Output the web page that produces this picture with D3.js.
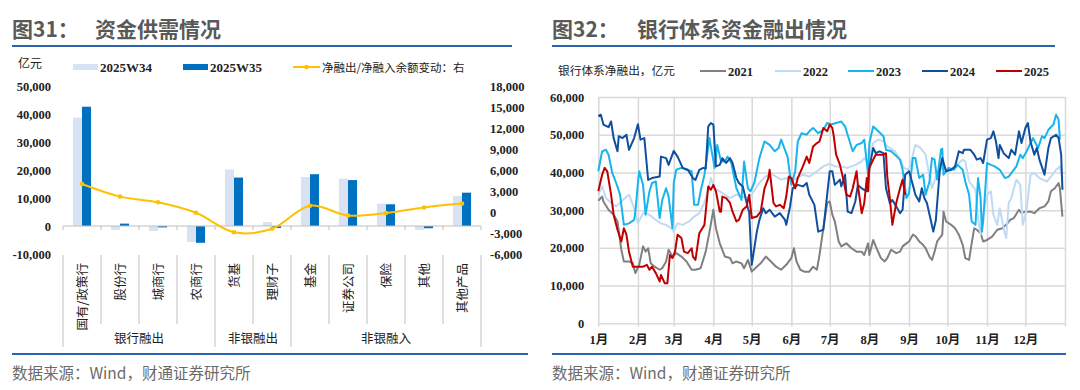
<!DOCTYPE html>
<html>
<head>
<meta charset="utf-8">
<script src="https://cdn.jsdelivr.net/npm/d3@7"></script>
<style>
body{margin:0;background:#fff}
svg{display:block}
</style>
</head>
<body>
<svg id="chart" width="1080" height="390"></svg>
<script>
// ---- 图31 数据 ----
var categories = ["国有/政策行","股份行","城商行","农商行","货基","理财子","基金","证券公司","保险","其他","其他产品"];
var groups = [["银行融出",4],["非银融出",2],["非银融入",5]];
var w34 = [38700,-1400,-1800,-5700,20200,1400,17500,16900,8000,-1400,10700];
var w35 = [42600,850,-500,-6000,17300,-700,18500,16400,7750,-800,11900];
var netChange = [4000,2200,1400,-100,-2900,-2400,900,-500,-150,650,1200];
var leftTicks = [-10000,0,10000,20000,30000,40000,50000];
var rightTicks = [-6000,-3000,0,3000,6000,9000,12000,15000,18000];

// ---- 图32 数据 (日序, 亿元) ----
var yearNames = ["2021","2022","2023","2024","2025"];
var s2021 = [[0,32500],[3,33600],[4,32300],[8,30100],[12,28800],[15,27000],[18,19500],[20,16400],[24,16400],[27,15900],[29,13300],[32,15500],[35,20400],[37,19000],[39,19900],[41,15900],[44,15000],[48,14200],[50,14600],[53,16400],[55,19500],[58,17700],[61,18600],[65,17700],[69,16400],[73,14200],[76,14200],[80,14600],[84,19000],[87,24300],[90,30100],[92,25200],[95,21200],[99,17700],[103,17300],[105,15900],[108,16400],[112,15900],[114,14600],[117,16800],[120,13700],[124,15000],[127,15900],[131,17700],[135,16400],[139,15000],[143,14200],[147,15500],[151,17300],[153,19900],[155,16400],[158,14200],[161,13700],[165,13700],[168,15000],[171,14200],[173,18100],[176,25200],[179,31900],[181,32300],[183,28800],[185,27000],[188,21700],[190,20400],[194,21200],[198,19900],[202,19000],[206,19000],[208,18100],[211,21200],[212,18100],[215,22100],[217,20400],[221,17300],[224,16400],[226,17300],[229,19500],[233,18600],[236,19000],[238,20400],[241,21200],[243,21700],[246,23500],[248,23100],[251,21700],[254,20800],[256,19900],[259,17700],[261,16800],[263,19000],[265,21700],[269,23500],[270,29600],[272,27000],[276,26100],[279,25200],[282,23500],[285,20800],[287,17300],[290,16800],[292,21200],[294,25200],[296,24800],[299,23900],[301,21700],[304,22100],[308,23000],[312,24800],[316,25200],[320,26500],[322,27400],[325,27900],[329,30100],[331,29200],[334,29600],[338,29600],[341,29200],[345,30500],[349,31000],[352,32300],[354,35000],[357,35800],[360,37200],[361,35800],[363,28300]];
var s2022 = [[0,34100],[3,36300],[6,33200],[10,31900],[14,31000],[18,32300],[21,33200],[24,34100],[28,30500],[31,26500],[35,29200],[40,28800],[45,27400],[49,26500],[53,26100],[57,25200],[59,24300],[62,26500],[66,26100],[71,27000],[75,28300],[79,29200],[83,31900],[87,36700],[88,38500],[91,35800],[95,35000],[99,34100],[103,33200],[108,34100],[112,33600],[116,33200],[120,34100],[124,36300],[127,37600],[131,38900],[135,39800],[139,38900],[143,38100],[147,38500],[151,37600],[155,38500],[160,39400],[165,38900],[171,40300],[176,41600],[181,42300],[185,41600],[190,41600],[195,41200],[201,42000],[206,42900],[208,43800],[211,42500],[215,47800],[219,48700],[223,48200],[226,46900],[232,45600],[236,43400],[239,41200],[243,40700],[246,44700],[248,47300],[252,46500],[256,44700],[259,38900],[261,35800],[265,39800],[269,41200],[272,40700],[276,40700],[279,41600],[282,42500],[285,43400],[287,42900],[290,37600],[292,36700],[295,35400],[297,27900],[299,23500],[301,28800],[304,34100],[307,35000],[309,28800],[312,26100],[314,30500],[317,25200],[319,22600],[321,31900],[323,33200],[327,38100],[330,36700],[332,26100],[335,30100],[338,39400],[341,39800],[345,38500],[351,37600],[354,38900],[358,40700],[361,41600],[363,38500]];
var s2023 = [[0,40300],[3,45600],[6,46000],[8,44700],[11,39800],[14,37200],[17,34100],[20,26100],[24,26500],[28,27400],[29,29600],[31,37200],[32,40300],[35,36700],[37,28800],[40,35000],[42,37200],[45,37600],[48,27900],[50,32700],[53,35800],[55,33600],[58,25200],[59,37200],[61,40700],[65,41200],[69,40700],[73,40300],[75,31400],[78,31400],[80,35000],[83,39400],[87,49100],[88,46900],[91,41200],[93,47300],[96,42900],[99,42900],[101,44200],[104,42500],[108,35800],[112,32700],[114,42900],[117,35800],[119,35000],[122,37200],[126,43800],[130,48200],[134,47300],[138,45600],[141,46500],[143,48700],[146,46000],[148,44200],[151,36700],[154,40300],[156,48200],[159,50400],[163,50000],[165,50900],[168,51800],[172,50400],[176,51300],[179,53100],[182,52700],[186,53100],[190,53500],[193,52200],[195,50000],[199,45600],[202,47300],[206,47800],[208,48700],[211,39400],[212,47800],[215,52200],[219,50900],[223,49600],[225,46000],[229,45600],[232,44700],[236,43400],[238,40700],[241,33200],[243,34500],[246,43800],[248,43800],[251,38500],[254,39400],[256,34100],[259,37600],[261,43800],[263,43400],[265,38100],[268,46000],[269,46300],[270,39400],[274,41200],[278,40700],[281,42000],[285,40700],[287,37600],[290,34100],[292,27000],[295,26100],[297,38500],[299,33200],[300,24300],[301,27000],[304,42500],[307,42000],[310,41600],[314,40700],[318,38500],[321,38900],[323,39800],[327,41600],[330,44700],[332,43800],[335,45600],[338,47800],[340,49100],[344,46500],[347,49600],[349,49100],[352,51300],[356,52700],[358,55300],[360,54000],[361,48700]];
var s2024 = [[0,54900],[2,55300],[4,52700],[8,52000],[10,53500],[12,49100],[15,45600],[16,49600],[19,49100],[22,50000],[24,46000],[28,49100],[31,52800],[33,48700],[36,49100],[39,38000],[42,38500],[48,38900],[49,44200],[53,43800],[55,42000],[59,45700],[62,44200],[66,41200],[70,40700],[74,38500],[76,38000],[79,40700],[82,41200],[84,41000],[86,52200],[88,53100],[90,52700],[92,41600],[95,42000],[97,43800],[100,42500],[103,43800],[105,42500],[108,38500],[110,37200],[113,36300],[117,30500],[118,29600],[120,15500],[124,24300],[126,27400],[129,30500],[131,29200],[134,30100],[138,28300],[142,29200],[146,27400],[147,26100],[150,31000],[152,35800],[156,36700],[160,36300],[163,37200],[165,34100],[169,31400],[172,24300],[176,24800],[179,34100],[181,40300],[183,40300],[185,36700],[189,38100],[190,36300],[193,39400],[195,29600],[198,29200],[201,32300],[203,36700],[206,35800],[210,35000],[212,41200],[215,46500],[217,45100],[220,45600],[223,45100],[225,35800],[228,31900],[230,32700],[233,31000],[236,29200],[238,30100],[240,39400],[243,40300],[246,36700],[248,34100],[251,32300],[253,35800],[255,33200],[257,31900],[260,27400],[262,24300],[264,27400],[267,40300],[269,43800],[272,40300],[276,40700],[279,41600],[282,45600],[285,45100],[286,46000],[291,46000],[294,44700],[296,43400],[299,43800],[301,42500],[304,48700],[307,49100],[309,50900],[311,48200],[313,43800],[314,47300],[317,45100],[321,43800],[323,46000],[326,44700],[329,50900],[331,47800],[334,51800],[336,53100],[338,48200],[341,44700],[343,46500],[345,43400],[349,39400],[352,46500],[354,49100],[358,50000],[360,49100],[362,44700],[363,35400]];
var s2025 = [[0,35000],[3,39400],[5,41200],[7,40300],[10,34100],[12,28800],[14,26100],[15,24800],[18,21700],[20,25200],[22,23500],[24,19000],[27,15000],[31,15000],[35,15000],[38,15500],[40,14200],[42,15000],[45,13300],[48,11100],[49,12800],[52,10600],[54,10600],[56,18100],[58,17300],[60,19000],[62,23500],[65,22600],[67,19000],[70,18600],[73,19900],[74,17700],[76,16800],[79,23900],[83,26100],[86,36300],[88,35400],[90,36700],[92,35000],[95,29600],[96,29600],[97,33600],[100,33200],[103,31900],[105,29600],[108,27000],[110,27400],[113,30100],[116,31000],[118,34100],[120,27900],[124,28300],[127,29600],[130,35800],[133,38500],[134,40700],[137,31900],[139,31000],[142,31400],[145,30500],[147,33600],[149,38900],[151,38500],[154,35800],[156,38500],[160,41600],[163,44200],[165,42500],[168,46900],[171,47800],[173,48200],[176,51800],[179,50900],[181,52700],[183,51800],[184,50000],[186,44700],[189,42000],[192,37600],[194,34100],[197,33600],[199,35800],[202,40300],[203,36700],[206,29200],[208,31900],[210,38500],[211,35000],[212,41200],[215,43400],[217,44700],[220,44700],[223,44700],[225,45100],[226,38900],[228,33200],[230,26100],[233,31900],[236,35800],[238,38100],[240,34100]];
var rightYTicks = [0,10000,20000,30000,40000,50000,60000];

var NUMF = "'Liberation Serif','Times New Roman','Noto Sans CJK SC',serif";
var CJKF = "'Noto Sans CJK SC','Noto Sans',sans-serif";
var fmt = d3.formatLocale({decimal:".",thousands:",",grouping:[3],currency:["",""],minus:"-"}).format(",");

var svg = d3.select("#chart");

// 标题 + 页脚
function frame(x0, x1, lineEnd, fig, title, titleX) {
  svg.append("text").attr("x",x0).attr("y",37).text(fig)
    .style("font-family",CJKF).style("font-weight","bold").style("font-size","21px").attr("fill","#595959");
  svg.append("text").attr("x",titleX).attr("y",37).text(title)
    .style("font-family",CJKF).style("font-weight","bold").style("font-size","21px").attr("fill","#595959");
  svg.append("line").attr("x1",x0).attr("x2",x1).attr("y1",46).attr("y2",46)
    .attr("stroke","#2a62ad").attr("stroke-width",2);
  svg.append("line").attr("x1",x0).attr("x2",lineEnd).attr("y1",354).attr("y2",354)
    .attr("stroke","#2a62ad").attr("stroke-width",2);
  svg.append("text").attr("x",x0).attr("y",379).text("数据来源：Wind，财通证券研究所")
    .style("font-family",CJKF).style("font-size","15.5px").attr("fill","#6b6b6b");
}
frame(12, 512, 528, "图31：", "资金供需情况", 95);
frame(552, 1055, 1066, "图32：", "银行体系资金融出情况", 637);

// ================= 图31 =================
var xL = d3.scaleBand().domain(categories).range([63,481]);
var xSub = d3.scaleBand().domain(["W34","W35"]).range([0,xL.bandwidth()]).paddingOuter(1.1);
var yL = d3.scaleLinear().domain([-10000,50000]).range([254,86]);
var yR = d3.scaleLinear().domain([-6000,18000]).range([254,86]);

var barSeries = [{key:"W34",vals:w34,color:"#d9e2f3"},{key:"W35",vals:w35,color:"#0070c0"}];
barSeries.forEach(function(s){
  svg.append("g").selectAll("rect").data(categories).join("rect")
    .attr("x",function(c){return xL(c)+xSub(s.key);})
    .attr("width",xSub.bandwidth())
    .attr("y",function(c,i){return yL(Math.max(0,s.vals[i]));})
    .attr("height",function(c,i){return Math.abs(yL(s.vals[i])-yL(0));})
    .attr("fill",s.color);
});

// 0 轴
var baseY = yL(0);
svg.append("line").attr("x1",63).attr("x2",481).attr("y1",baseY).attr("y2",baseY).attr("stroke","#bfbfbf");
var bounds = categories.map(function(c){return xL(c);}).concat([xL.range()[1]]);
svg.append("g").selectAll("line").data(bounds).join("line")
  .attr("x1",function(d){return d;}).attr("x2",function(d){return d;})
  .attr("y1",baseY).attr("y2",baseY+4).attr("stroke","#bfbfbf");

// 分类分隔线
var groupIdx = [0]; groups.forEach(function(g){groupIdx.push(groupIdx[groupIdx.length-1]+g[1]);});
svg.append("g").selectAll("line").data(bounds).join("line")
  .attr("x1",function(d){return d;}).attr("x2",function(d){return d;})
  .attr("y1",255).attr("y2",function(d,i){return groupIdx.indexOf(i)>=0?347:324;})
  .attr("stroke","#bfbfbf");

svg.append("g").selectAll("text").data(categories).join("text")
  .attr("transform",function(c){return "translate("+(xL(c)+xL.bandwidth()/2)+",263) rotate(-90)";})
  .attr("text-anchor","end").attr("dy","0.36em").text(function(c){return c;})
  .style("font-family",CJKF).style("font-size","12.5px").attr("fill","#222");

svg.append("g").selectAll("text").data(groups).join("text")
  .attr("x",function(g,i){return (bounds[groupIdx[i]]+bounds[groupIdx[i+1]])/2;})
  .attr("y",343).attr("text-anchor","middle").text(function(g){return g[0];})
  .style("font-family",CJKF).style("font-size","12.5px").attr("fill","#222");

// 左右轴
var axL = svg.append("g").attr("transform","translate(52,0)")
  .call(d3.axisLeft(yL).tickValues(leftTicks).tickFormat(fmt).tickSize(0).tickPadding(1));
var axR = svg.append("g").attr("transform","translate(488,0)")
  .call(d3.axisRight(yR).tickValues(rightTicks).tickFormat(fmt).tickSize(0).tickPadding(2));
[axL,axR].forEach(function(a){
  a.select(".domain").remove();
  a.selectAll("text").style("font-family",NUMF).style("font-weight","bold").style("font-size","12.5px").attr("fill","#222");
});

// 折线
var netPts = categories.map(function(c,i){return [xL(c)+xL.bandwidth()/2, yR(netChange[i])];});
svg.append("path").attr("d",d3.line().curve(d3.curveCatmullRom.alpha(0.5))(netPts))
  .attr("fill","none").attr("stroke","#ffc000").attr("stroke-width",2);
svg.append("g").selectAll("circle").data(netPts).join("circle")
  .attr("cx",function(d){return d[0];}).attr("cy",function(d){return d[1];}).attr("r",2.3).attr("fill","#ffc000");

// 图例
svg.append("text").attr("x",18).attr("y",68).text("亿元")
  .style("font-family",CJKF).style("font-size","12px").attr("fill","#222");
var leg1 = [{x:73,label:"2025W34",color:"#d9e2f3"},{x:183,label:"2025W35",color:"#0070c0"}];
leg1.forEach(function(l){
  svg.append("rect").attr("x",l.x).attr("y",64).attr("width",25).attr("height",6).attr("fill",l.color);
  svg.append("text").attr("x",l.x+27).attr("y",71.5).text(l.label)
    .style("font-family",NUMF).style("font-weight","bold").style("font-size","13px").attr("fill","#222");
});
svg.append("line").attr("x1",293).attr("x2",320).attr("y1",67).attr("y2",67).attr("stroke","#ffc000").attr("stroke-width",2);
svg.append("circle").attr("cx",306.5).attr("cy",67).attr("r",2.3).attr("fill","#ffc000");
svg.append("text").attr("x",322).attr("y",71.5).text("净融出/净融入余额变动：右")
  .style("font-family",CJKF).style("font-size","11.5px").attr("fill","#222");

// ================= 图32 =================
var t0 = new Date(2021,0,1), t1 = new Date(2022,0,1);
var xT = d3.scaleTime().domain([t0,t1]).range([598.3,1065]);
var yT = d3.scaleLinear().domain([0,60000]).range([323.3,97]);

var gy = svg.append("g").attr("transform","translate(598.3,0)")
  .call(d3.axisLeft(yT).tickValues(rightYTicks).tickFormat(fmt).tickSize(-(1065-598.3)).tickPadding(14));
gy.select(".domain").remove();
gy.selectAll("line").attr("stroke","#d9d9d9").attr("stroke-width",1.5);

var monthTicks = d3.timeMonth.range(t0, d3.timeDay.offset(t1,1));
var gx = svg.append("g").attr("transform","translate(0,326.5)")
  .call(d3.axisBottom(xT).tickValues(monthTicks).tickSize(-(326.5-97))
    .tickFormat(function(d){return d.getFullYear()===2021?(d.getMonth()+1)+"月":"";}).tickPadding(9));
gx.select(".domain").remove();
gx.selectAll("line").attr("stroke","#d9d9d9").attr("stroke-width",1.5);

[gx,gy].forEach(function(a){
  a.selectAll("text").style("font-family",NUMF).style("font-weight","bold").style("font-size","12.5px").attr("fill","#222");
});

var seriesList = [
  {name:"2021",data:s2021,color:"#808080"},
  {name:"2022",data:s2022,color:"#bfdaf5"},
  {name:"2023",data:s2023,color:"#18b4ee"},
  {name:"2024",data:s2024,color:"#0f4f9f"},
  {name:"2025",data:s2025,color:"#c00000"}
];
var lineT = d3.line()
  .x(function(d){return xT(d3.timeDay.offset(t0,d[0]));})
  .y(function(d){return yT(d[1]);});
svg.append("g").selectAll("path").data(seriesList).join("path")
  .attr("d",function(s){return lineT(s.data);})
  .attr("fill","none").attr("stroke",function(s){return s.color;})
  .attr("stroke-width",2).attr("stroke-linejoin","round");

// 图例
svg.append("text").attr("x",558).attr("y",75).text("银行体系净融出，亿元")
  .style("font-family",CJKF).style("font-size","11.7px").attr("fill","#222");
var legX = [700,775,848,922,996];
seriesList.forEach(function(s,i){
  svg.append("line").attr("x1",legX[i]).attr("x2",legX[i]+26).attr("y1",71).attr("y2",71)
    .attr("stroke",s.color).attr("stroke-width",2);
  svg.append("text").attr("x",legX[i]+28).attr("y",75.5).text(yearNames[i])
    .style("font-family",NUMF).style("font-weight","bold").style("font-size","12.5px").attr("fill","#222");
});
</script>
</body>
</html>
